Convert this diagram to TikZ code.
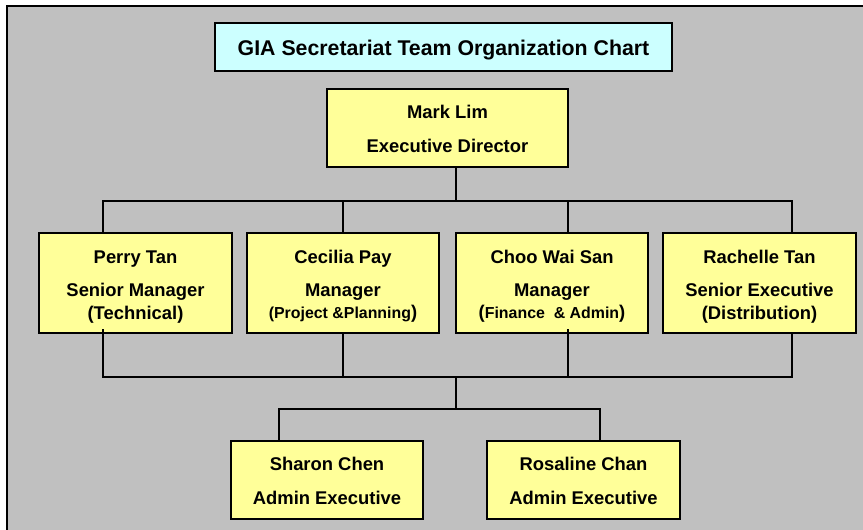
\documentclass[tikz,border=0pt]{standalone}
\usepackage{fontspec}
\setmainfont{Liberation Sans}
\definecolor{bggray}{HTML}{C0C0C0}
\definecolor{boxyellow}{HTML}{FFFF99}
\definecolor{boxcyan}{HTML}{CCFFFF}
\newcommand{\bodyfont}{\fontsize{18.4}{22}\selectfont\bfseries}
\newcommand{\smallfont}{\fontsize{15.9}{19}\selectfont\bfseries}
\newcommand{\titlefont}{\fontsize{21.3}{25}\selectfont\bfseries}
\tikzset{
  orgbox/.style={draw=black, line width=1.5pt, fill=boxyellow, rectangle, inner sep=0pt, outer sep=0pt},
  titlebox/.style={draw=black, line width=1.5pt, fill=boxcyan, rectangle, inner sep=0pt, outer sep=0pt},
  lbl/.style={anchor=base, inner sep=0pt, font=\bodyfont},
  conn/.style={draw=black, line width=1.3pt}
}
\begin{document}
\begin{tikzpicture}[x=1pt,y=-1pt]
\useasboundingbox (0,0) rectangle (863,530);
\fill[white] (0,0) rectangle (863,530);
\fill[bggray] (7,6) rectangle (863,530);
\draw[line width=1.5pt] (7,531) -- (7,6) -- (864,6);

% title
\node[titlebox, minimum width=457pt, minimum height=48pt] (title) at (443.5,47) {};
\node[lbl, font=\titlefont] (titletext) at (443.5,55) {GIA Secretariat Team Organization Chart};

% boxes
\node[orgbox, minimum width=241pt, minimum height=78pt] (mark) at (447.5,128) {};
\node[orgbox, minimum width=193pt, minimum height=100pt] (perry) at (135.5,283) {};
\node[orgbox, minimum width=192pt, minimum height=100pt] (cecilia) at (343,283) {};
\node[orgbox, minimum width=192pt, minimum height=100pt] (choo) at (552,283) {};
\node[orgbox, minimum width=193pt, minimum height=100pt] (rachelle) at (759.5,283) {};
\node[orgbox, minimum width=192pt, minimum height=78pt] (sharon) at (327,480) {};
\node[orgbox, minimum width=193pt, minimum height=78pt] (rosaline) at (583.5,480) {};

% texts
\node[lbl] (markA) at (447.5,118) {Mark Lim};
\node[lbl] (markB) at (447.5,152) {Executive Director};

\node[lbl] (perryA) at (135.5,263) {Perry Tan};
\node[lbl] (perryB) at (135.5,296) {Senior Manager};
\node[lbl] (perryC) at (135.5,319) {(Technical)};

\node[lbl] (ceciliaA) at (343,263) {Cecilia Pay};
\node[lbl] (ceciliaB) at (343,296) {Manager};
\node[lbl] (ceciliaC) at (343,318.5) {{\smallfont(Project \&Planning}{\bodyfont)}};

\node[lbl] (chooA) at (552,263) {Choo Wai San};
\node[lbl] (chooB) at (552,296) {Manager};
\node[lbl] (chooC) at (552,318.5) {{\bodyfont(}{\smallfont Finance\ \ \& Admin}{\bodyfont)}};

\node[lbl] (rachelleA) at (759.5,263) {Rachelle Tan};
\node[lbl] (rachelleB) at (759.5,296) {Senior Executive};
\node[lbl] (rachelleC) at (759.5,319) {(Distribution)};

\node[lbl] (sharonA) at (327,470) {Sharon Chen};
\node[lbl] (sharonB) at (327,504) {Admin Executive};
\node[lbl] (rosalineA) at (583.5,470) {Rosaline Chan};
\node[lbl] (rosalineB) at (583.5,504) {Admin Executive};

% junction coordinates
\coordinate (busTop) at (456,201);
\coordinate (busBot) at (456,377);
\coordinate (busLow) at (456,409);

% connectors top
\draw[conn] (mark.south -| busTop) -- (busTop);
\draw[conn] (perry.north -| 103,0) -- (103,201) -- (792,201) -- (rachelle.north -| 792,0);
\draw[conn] (cecilia.north) -- (cecilia.north |- busTop);
\draw[conn] (choo.north -| 568,0) -- (568,201);

% connectors bottom
\draw[conn] ([yshift=4pt]perry.south -| 103,0) -- (103,377) -- (792,377) -- (rachelle.south -| 792,0);
\draw[conn] (cecilia.south) -- (cecilia.south |- busBot);
\draw[conn] ([yshift=4pt]choo.south -| 568,0) -- (568,377);

% to admin row
\draw[conn] (busBot) -- (busLow);
\draw[conn] (sharon.north -| 279,0) -- (279,409) -- (600,409) -- (rosaline.north -| 600,0);
\end{tikzpicture}
\end{document}
